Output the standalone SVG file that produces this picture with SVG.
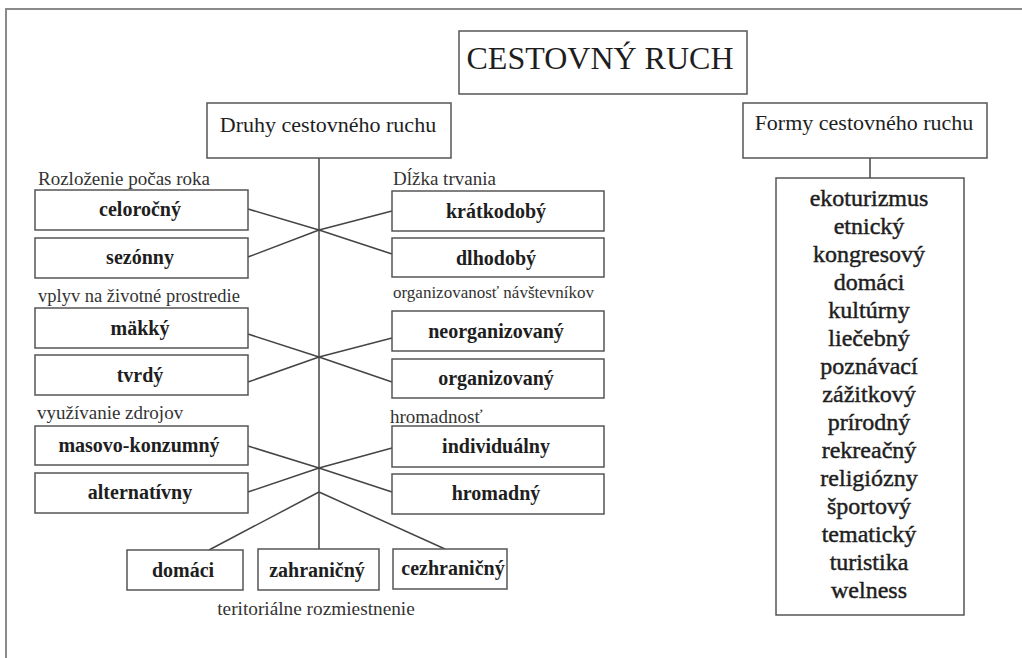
<svg xmlns="http://www.w3.org/2000/svg" width="1022" height="658" viewBox="0 0 1022 658" font-family="'Liberation Serif', 'DejaVu Serif', serif">
<style>
  .frame { fill: none; stroke: #8a8a8a; stroke-width: 2; }
  .box { fill: #ffffff; stroke: #555555; stroke-width: 1.5; }
  .conn line { stroke: #444444; stroke-width: 1.5; fill: none; }
  text { font-family: 'Liberation Serif', 'DejaVu Serif', serif; fill: #1e1e1e; }
  .title { font-size: 32px; text-anchor: middle; }
  .head { font-size: 22px; text-anchor: middle; }
  .lbl { font-size: 20px; font-weight: bold; text-anchor: middle; }
  .cat { font-size: 19px; fill: #333333; }
  .list { font-size: 24px; text-anchor: middle; stroke: #1e1e1e; stroke-width: 0.45; }
</style>
<rect x="0" y="0" width="1022" height="658" fill="#ffffff"/>
<rect class="frame" x="6" y="9" width="1100" height="700"/>

<g id="connectors" class="conn">
  <line x1="319" y1="158" x2="319" y2="549"/>
  <line x1="248" y1="209" x2="319" y2="230"/>
  <line x1="248" y1="257" x2="319" y2="230"/>
  <line x1="392" y1="211" x2="319" y2="230"/>
  <line x1="392" y1="254" x2="319" y2="230"/>
  <line x1="248" y1="334" x2="319" y2="357"/>
  <line x1="248" y1="382" x2="319" y2="357"/>
  <line x1="392" y1="338" x2="319" y2="357"/>
  <line x1="392" y1="382" x2="319" y2="357"/>
  <line x1="248" y1="446" x2="319" y2="468"/>
  <line x1="248" y1="492" x2="319" y2="468"/>
  <line x1="392" y1="448" x2="319" y2="468"/>
  <line x1="392" y1="492" x2="319" y2="468"/>
  <line x1="319" y1="492" x2="209" y2="550"/>
  <line x1="319" y1="492" x2="445" y2="549"/>
  <line x1="870" y1="158" x2="870" y2="178"/>
</g>

<g id="n-title">
  <rect class="box" x="459" y="31" width="288" height="63"/>
  <text class="title" x="600" y="69">CESTOVNÝ RUCH</text>
</g>

<g id="n-druhy">
  <rect class="box" x="207" y="103" width="244" height="55"/>
  <text class="head" x="328" y="132">Druhy cestovného ruchu</text>
</g>

<g id="n-formy">
  <rect class="box" x="743" y="103" width="244" height="55"/>
  <text class="head" x="864" y="130">Formy cestovného ruchu</text>
</g>

<g id="cat-labels">
  <text class="cat" x="38" y="185">Rozloženie počas roka</text>
  <text class="cat" x="393" y="185">Dĺžka trvania</text>
  <text class="cat" x="38" y="302" style="font-size:18.5px">vplyv na životné prostredie</text>
  <text class="cat" x="393" y="298" style="font-size:17px">organizovanosť návštevníkov</text>
  <text class="cat" x="37" y="419">využívanie zdrojov</text>
  <text class="cat" x="390" y="423">hromadnosť</text>
  <text class="cat" x="316" y="615" style="text-anchor:middle;font-size:19.3px">teritoriálne rozmiestnenie</text>
</g>

<g id="n-celorocny">
  <rect class="box" x="35" y="190" width="213" height="40"/>
  <text class="lbl" x="140" y="216">celoročný</text>
</g>
<g id="n-sezonny">
  <rect class="box" x="35" y="238" width="213" height="40"/>
  <text class="lbl" x="140" y="264">sezónny</text>
</g>
<g id="n-makky">
  <rect class="box" x="35" y="308" width="213" height="40"/>
  <text class="lbl" x="140" y="335">mäkký</text>
</g>
<g id="n-tvrdy">
  <rect class="box" x="35" y="355" width="213" height="40"/>
  <text class="lbl" x="140" y="382">tvrdý</text>
</g>
<g id="n-masovo">
  <rect class="box" x="35" y="426" width="213" height="39"/>
  <text class="lbl" x="139" y="452">masovo-konzumný</text>
</g>
<g id="n-alternativny">
  <rect class="box" x="35" y="473" width="213" height="40"/>
  <text class="lbl" x="140" y="499">alternatívny</text>
</g>

<g id="n-kratkodoby">
  <rect class="box" x="392" y="191" width="212" height="40"/>
  <text class="lbl" x="496" y="218">krátkodobý</text>
</g>
<g id="n-dlhodoby">
  <rect class="box" x="392" y="238" width="212" height="39"/>
  <text class="lbl" x="496" y="265">dlhodobý</text>
</g>
<g id="n-neorganizovany">
  <rect class="box" x="392" y="311" width="212" height="40"/>
  <text class="lbl" x="496" y="338">neorganizovaný</text>
</g>
<g id="n-organizovany">
  <rect class="box" x="392" y="359" width="212" height="39"/>
  <text class="lbl" x="496" y="385">organizovaný</text>
</g>
<g id="n-individualny">
  <rect class="box" x="392" y="426" width="212" height="41"/>
  <text class="lbl" x="496" y="453">individuálny</text>
</g>
<g id="n-hromadny">
  <rect class="box" x="392" y="474" width="212" height="40"/>
  <text class="lbl" x="496" y="500">hromadný</text>
</g>

<g id="n-domaci">
  <rect class="box" x="127" y="550" width="116" height="40"/>
  <text class="lbl" x="183" y="577">domáci</text>
</g>
<g id="n-zahranicny">
  <rect class="box" x="258" y="549" width="121" height="41"/>
  <text class="lbl" x="317" y="577">zahraničný</text>
</g>
<g id="n-cezhranicny">
  <rect class="box" x="393" y="549" width="114" height="40"/>
  <text class="lbl" x="453" y="575">cezhraničný</text>
</g>

<g id="n-formy-list">
  <rect class="box" x="776" y="178" width="188" height="437"/>
  <text class="list" x="869" y="206">ekoturizmus</text>
  <text class="list" x="869" y="234">etnický</text>
  <text class="list" x="869" y="262">kongresový</text>
  <text class="list" x="869" y="290">domáci</text>
  <text class="list" x="869" y="318">kultúrny</text>
  <text class="list" x="869" y="346">liečebný</text>
  <text class="list" x="869" y="374">poznávací</text>
  <text class="list" x="869" y="402">zážitkový</text>
  <text class="list" x="869" y="430">prírodný</text>
  <text class="list" x="869" y="458">rekreačný</text>
  <text class="list" x="869" y="486">religiózny</text>
  <text class="list" x="869" y="514">športový</text>
  <text class="list" x="869" y="542">tematický</text>
  <text class="list" x="869" y="570">turistika</text>
  <text class="list" x="869" y="598">welness</text>
</g>
</svg>
